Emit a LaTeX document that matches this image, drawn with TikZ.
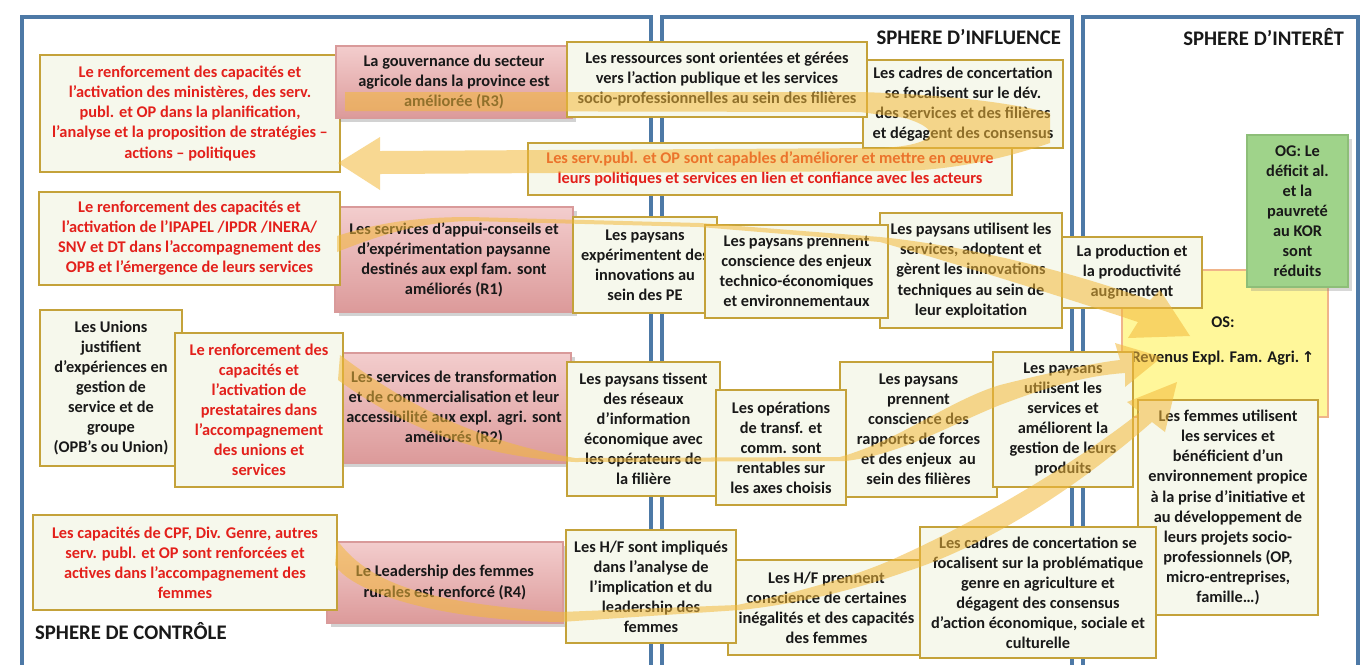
\documentclass[tikz,border=0pt]{standalone}
\usepackage{fontspec}
\setmainfont{Carlito}
\newfontfamily\djv{DejaVu Sans}
\usetikzlibrary{shadows}
\definecolor{frameblue}{HTML}{4D79A6}
\definecolor{boxfill}{HTML}{F6F8EC}
\definecolor{boxdraw}{HTML}{C4A23A}
\definecolor{redtxt}{HTML}{E3201B}
\definecolor{pinkA}{HTML}{F3CDCD}
\definecolor{pinkB}{HTML}{DC9A9A}
\definecolor{pinkdraw}{HTML}{D99A9A}
\definecolor{arrowc}{HTML}{F3B93A}
\definecolor{osfill}{HTML}{FFF79A}
\definecolor{osdraw}{HTML}{F0B48A}
\definecolor{ogfill}{HTML}{9FD38A}
\definecolor{ogdraw}{HTML}{8DBE78}
\tikzset{
 every node/.style={font=\fontsize{9.3}{11.4}\selectfont\bfseries, align=center, inner sep=1pt, text=black!90},
 ybox/.style={draw=boxdraw, line width=1.1pt, fill=boxfill},
 rbox/.style={ybox, text=redtxt},
 pbox/.style={draw=pinkdraw, line width=0.6pt, top color=pinkA, bottom color=pinkB, drop shadow={opacity=0.35, shadow xshift=2pt, shadow yshift=-2pt}},
 osbox/.style={draw=osdraw, line width=1pt, fill=osfill},
 ogbox/.style={draw=ogdraw, line width=1pt, fill=ogfill, drop shadow={opacity=0.3, shadow xshift=2pt, shadow yshift=-2pt}},
 frame/.style={draw=frameblue, line width=2pt},
 title/.style={font=\fontsize{11.8}{13}\selectfont\bfseries},
 bigarrow/.style={fill=arrowc},
}
\newcommand\bx[7]{\node[#6, minimum width={(#4-#2)*0.02cm}, minimum height={(#5-#3)*0.02cm}] (#1) at ({(#2+#4)/2},{(#3+#5)/2}) {#7};}
\begin{document}
\begin{tikzpicture}[x=0.02cm, y=-0.02cm]
\useasboundingbox (0,0) rectangle (1362,664);
\fill[white] (0,0) rectangle (1362,664);
\clip (0,0) rectangle (1362,664);
% sphere frames
\draw[frame] (22,17) rectangle (651,720);
\draw[frame] (662,17) rectangle (1072,720);
\draw[frame] (1083,17) rectangle (1358,720);
\node[title, anchor=east] (tinf) at (1063,37) {SPHERE D’INFLUENCE};
\node[title, anchor=east] (tint) at (1346,37) {SPHERE D’INTERÊT};
\node[title, anchor=west] (tctl) at (33,631) {SPHERE DE CONTRÔLE};
% row 1
\bx{c1}{40}{55}{340}{172}{rbox}{Le renforcement des capacités et\\l’activation des ministères, des serv.\\publ. et OP dans la planification,\\l’analyse et la proposition de stratégies –\\actions – politiques}
\bx{r3}{336}{46}{572}{118}{pbox}{La gouvernance du secteur\\agricole dans la province est\\améliorée (R3)}
\bx{b5}{528}{143}{1012}{195}{rbox}{Les serv.publ. et OP sont capables d’améliorer et mettre en œuvre\\leurs politiques et services en lien et confiance avec les acteurs}
\bx{b4}{863}{60}{1063}{148}{ybox}{Les cadres de concertation\\se focalisent sur le dév.\\des services et des filières\\et dégagent des consensus}
\bx{b3}{567}{42}{867}{117}{ybox}{Les ressources sont orientées et gérées\\vers l’action publique et les services\\socio-professionnelles au sein des filières}
% row 2
\bx{r1}{335}{207}{573}{312}{pbox}{Les services d’appui-conseils et\\d’expérimentation paysanne\\destinés aux expl fam. sont\\améliorés (R1)}
\bx{c2}{39}{192}{340}{285}{rbox}{Le renforcement des capacités et\\l’activation de l’IPAPEL /IPDR /INERA/\\SNV et DT dans l’accompagnement des\\OPB et l’émergence de leurs services}
\bx{b8}{573}{217}{717}{313}{ybox}{Les paysans\\expérimentent des\\innovations au\\sein des PE}
\bx{b10}{880}{213}{1062}{328}{ybox}{Les paysans utilisent les\\services, adoptent et\\gèrent les innovations\\techniques au sein de\\leur exploitation}
\bx{b9}{705}{225}{888}{318}{ybox}{Les paysans prennent\\conscience des enjeux\\technico-économiques\\et environnementaux}
% interest sphere
\bx{os}{1122}{270}{1328}{417}{osbox}{}
\node (ost) at (1223,322) {OS:};
\node (osr) at (1223,358) {Revenus Expl. Fam. Agri.\,{\djv\bfseries\fontsize{8.5}{10}\selectfont ↑}};
\bx{b11}{1062}{237}{1202}{308}{ybox}{La production et\\la productivité\\augmentent}
\bx{og}{1247}{135}{1348}{287}{ogbox}{OG: Le\\déficit al.\\et la\\pauvreté\\au KOR\\sont\\réduits}
\bx{wom}{1138}{400}{1318}{615}{ybox}{Les femmes utilisent\\les services et\\bénéficient d’un\\environnement propice\\à la prise d’initiative et\\au développement de\\leurs projets socio-\\professionnels (OP,\\micro-entreprises,\\famille…)}
% row 3
\bx{uni}{40}{310}{182}{466}{ybox}{Les Unions\\justifient\\d’expériences en\\gestion de\\service et de\\groupe\\(OPB’s ou Union)}
\bx{r2}{337}{353}{571}{463}{pbox}{Les services de transformation\\et de commercialisation et leur\\accessibilité aux expl. agri. sont\\améliorés (R2)}
\bx{c3}{175}{333}{343}{487}{rbox}{Le renforcement des\\capacités et\\l’activation de\\prestataires dans\\l’accompagnement\\des unions et\\services}
\bx{b18}{567}{362}{720}{496}{ybox}{Les paysans tissent\\des réseaux\\d’information\\économique avec\\les opérateurs de\\la filière}
\bx{b20}{840}{362}{997}{497}{ybox}{Les paysans\\prennent\\conscience des\\rapports de forces\\et des enjeux ~au\\sein des filières}
\bx{b21}{993}{352}{1133}{487}{ybox}{Les paysans\\utilisent les\\services et\\améliorent la\\gestion de leurs\\produits}
\bx{b19}{716}{390}{846}{505}{ybox}{Les opérations\\de transf. et\\comm. sont\\rentables sur\\les axes choisis}
% row 4
\bx{r4}{327}{542}{563}{623}{pbox}{Le Leadership des femmes\\rurales est renforcé (R4)}
\bx{c4}{33}{515}{337}{610}{rbox}{Les capacités de CPF, Div. Genre, autres\\serv. publ. et OP sont renforcées et\\actives dans l’accompagnement des\\femmes}
\bx{b25}{728}{560}{925}{655}{ybox}{Les H/F prennent\\conscience de certaines\\inégalités et des capacités\\des femmes}
\bx{b24}{566}{530}{736}{643}{ybox}{Les H/F sont impliqués\\dans l’analyse de\\l’implication et du\\leadership des\\femmes}
\bx{b26}{920}{527}{1156}{658}{ybox}{Les cadres de concertation se\\focalisent sur la problématique\\genre en agriculture et\\dégagent des consensus\\d’action économique, sociale et\\culturelle}
% big translucent arrows
\begin{scope}[transparency group, opacity=0.55]
% A: R3 -> right -> back to C1
\fill[bigarrow] (345,92) -- (860,92) .. controls (960,95) and (1020,105) .. (1050,113)
  -- (1050,143) .. controls (1000,160) and (950,170) .. (900,171) -- (380,174)
  -- (380,190) -- (338,163) -- (380,137) -- (380,151) -- (880,148)
  .. controls (930,146) and (950,132) .. (905,118) -- (860,112) -- (345,111) -- cycle;
% B: R1 -> OS
\fill[bigarrow] (337,236) .. controls (380,222) and (420,217) .. (470,217) -- (700,223) -- (880,237)
  .. controls (960,245) and (1060,268) .. (1150,300) -- (1160,290) -- (1190,336) -- (1128,338)
  -- (1138,322) .. controls (1060,296) and (960,265) .. (880,242) -- (700,227) -- (470,221)
  .. controls (420,222) and (380,235) .. (337,252) -- cycle;
% C: R2 -> OS
\fill[bigarrow] (340,355) .. controls (400,400) and (470,440) .. (575,458) -- (840,457)
  .. controls (900,440) and (950,400) .. (1000,385) .. controls (1060,370) and (1100,362) .. (1120,360)
  -- (1115,343) -- (1162,357) -- (1125,387) -- (1125,373)
  .. controls (1080,376) and (1040,390) .. (1000,405) .. controls (950,425) and (900,455) .. (845,461)
  -- (575,462) .. controls (450,455) and (380,410) .. (338,380) -- cycle;
% D: R4 -> women
\fill[bigarrow] (337,540) .. controls (370,585) and (430,603) .. (560,612) -- (737,605)
  .. controls (800,592) and (860,575) .. (900,556) .. controls (980,520) and (1080,460) .. (1140,412)
  -- (1127,402) -- (1177,382) -- (1165,432) -- (1152,422)
  .. controls (1080,485) and (990,545) .. (905,572) .. controls (860,588) and (800,604) .. (740,610)
  -- (560,622) .. controls (430,620) and (350,590) .. (335,565) -- cycle;
\end{scope}
\end{tikzpicture}
\end{document}
